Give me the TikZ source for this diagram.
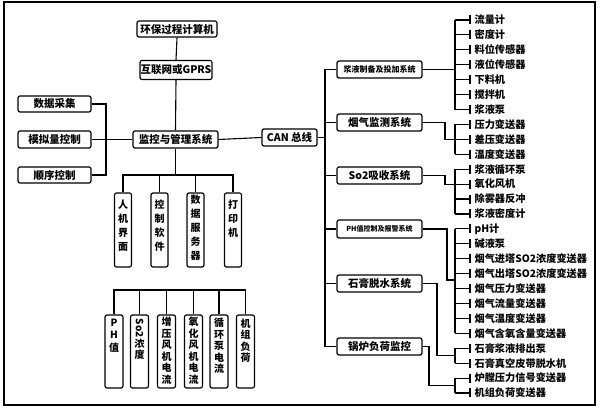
\documentclass[tikz,border=0pt]{standalone}
\usepackage{fontspec}
\usepackage{graphicx}
\setmainfont{Noto Sans CJK SC}
\begin{document}
\begin{tikzpicture}[x=1pt,y=-1pt,
  line width=1.1pt,
  bx/.style={draw,rounded corners=2pt,line width=1.2pt,inner sep=0pt,font=\bfseries\fontsize{10.5}{11}\selectfont},
  vb/.style={draw,rounded corners=2pt,line width=1.2pt,inner sep=0pt,minimum width=17,minimum height=74},
  wb/.style={draw,rounded corners=2pt,line width=1.2pt,inner sep=0pt,minimum width=18,minimum height=73},
  vt/.style={anchor=north,inner sep=0pt,align=center,font=\bfseries\fontsize{10}{14}\selectfont},
  wt/.style={anchor=north,inner sep=0pt,align=center,font=\bfseries\fontsize{10}{11.5}\selectfont},
  it/.style={anchor=west,inner sep=0pt,font=\bfseries\fontsize{10.2}{11}\selectfont}]
\useasboundingbox (0,0) rectangle (600,411);
\draw[line width=1.3pt] (4,2) rectangle (595,405);
% top column
\node[bx,minimum width=80,minimum height=16] (pc) at (177,29) {环保过程计算机};
\node[bx,minimum width=72,minimum height=19] (net) at (176,70) {互联网或GPRS};
\node[bx,minimum width=85,minimum height=17] (mon) at (175.5,139.5) {监控与管理系统};
\node[bx,minimum width=73,minimum height=16] (daq) at (54.5,104) {数据采集};
\node[bx,minimum width=73,minimum height=17] (ana) at (54.5,139.5) {模拟量控制};
\node[bx,minimum width=73,minimum height=16] (seq) at (54.5,175) {顺序控制};
\node[bx,minimum width=55,minimum height=17] (can) at (289.5,137.5) {CAN 总线};
\draw (pc.south) -- (net.north);
\draw (net.south) -- (mon.north);
\draw (ana.east) -- (mon.west);
\coordinate (lk1) at (106,104);
\coordinate (lk2) at (106,175);
\draw (daq.east) -- (lk1) -- (lk2) -- (seq.east);
\draw (mon.east) -- (can.west);
% vertical boxes
\node[vb] (v1) at (123,230) {};
\node[vb] (v2) at (159.5,230) {};
\node[vb] (v3) at (195.5,230) {};
\node[vb] (v4) at (233,230) {};
\node[vt] (v1t) at ([yshift=-7pt]v1.north) {人\\机\\界\\面};
\node[vt] (v2t) at ([yshift=-7pt]v2.north) {控\\制\\软\\件};
\node[vt] (v3t) at ([yshift=-2pt]v3.north) {数\\据\\服\\务\\器};
\node[vt] (v4t) at ([yshift=-7pt]v4.north) {打\\印\\机};
\coordinate (mb) at (175.5,175);
\draw (mon.south) -- (mb);
\draw (v1.north) |- (mb) -| (v4.north);
\draw (v2.north) -- (v2.north |- mb);
\draw (v3.north) -- (v3.north |- mb);
% bottom boxes
\node[wb] (b1) at (114,351.5) {};
\node[wb] (b2) at (139.5,351.5) {};
\node[wb] (b3) at (166.5,351.5) {};
\node[wb] (b4) at (193.5,351.5) {};
\node[wb] (b5) at (219,351.5) {};
\node[wb] (b6) at (245.5,351.5) {};
\node[wt,font=\bfseries\fontsize{10}{12.5}\selectfont] (b1t) at ([yshift=-4pt]b1.north) {P\\H\\值};
\node[wt] (b2t) at ([yshift=-4pt]b2.north) {\rotatebox{-90}{So2}\\浓\\度};
\node[wt] (b3t) at ([yshift=-2pt]b3.north) {增\\压\\风\\机\\电\\流};
\node[wt] (b4t) at ([yshift=-2pt]b4.north) {氧\\化\\风\\机\\电\\流};
\node[wt] (b5t) at ([yshift=-3pt]b5.north) {循\\环\\泵\\电\\流};
\node[wt] (b6t) at ([yshift=-4pt]b6.north) {机\\组\\负\\荷};
\coordinate (bb) at (166.5,290);
\draw (b1.north) |- (bb) -| (b6.north);
\foreach \n in {b2,b3,b4,b5} \draw (\n.north) -- (\n.north |- bb);
% subsystems
\node[bx,minimum width=85,minimum height=17,font=\bfseries\fontsize{8}{8.5}\selectfont] (s1) at (379.5,69.5) {浆液制备及投加系统};
\node[bx,minimum width=85,minimum height=17] (s2) at (379.5,122.5) {烟气监测系统};
\node[bx,minimum width=85,minimum height=17] (s3) at (379.5,175.5) {So2吸收系统};
\node[bx,minimum width=85,minimum height=18,font=\bfseries\fontsize{7}{7.5}\selectfont] (s4) at (379.5,229) {PH值控制及报警系统};
\node[bx,minimum width=85,minimum height=17] (s5) at (379.5,283.5) {石膏脱水系统};
\node[bx,minimum width=85,minimum height=17] (s6) at (379.5,346.5) {锅炉负荷监控};
\coordinate (tr) at (325,137.5);
\draw (can.east) -- (tr);
\draw (s1.west) -| (tr) |- (s6.west);
\foreach \n in {s2,s3,s4,s5} \draw (\n.west) -- (\n.west -| tr);
% items
\foreach \t [count=\i from 0] in {流量计,密度计,料位传感器,液位传感器,下料机,搅拌机,浆液泵,
  压力变送器,差压变送器,温度变送器,
  浆液循环泵,氧化风机,除雾器反冲,浆液密度计,
  pH计,碱液泵,烟气进塔SO2浓度变送器,烟气出塔SO2浓度变送器,烟气压力变送器,烟气流量变送器,烟气温度变送器,烟气含氧含量变送器,
  石膏浆液排出泵,石膏真空皮带脱水机,
  炉膛压力信号变送器,机组负荷变送器}{
  \node[it] (i\i) at (474,20+14.92*\i) {\t};
  \draw (455,20+14.92*\i) -- ([xshift=-4pt]i\i.west);
  \draw ([xshift=-4pt,yshift=-4.5pt]i\i.west) -- ([xshift=-4pt,yshift=4.5pt]i\i.west);
}
% brackets
\draw (455,0 |- i0.west) -- (455,0 |- i6.west);
\draw (s1.east) -- (455,0 |- s1.east);
\draw (455,0 |- i7.west) -- (455,0 |- i9.west);
\draw (s2.east) -- (445,0 |- s2.east) |- (455,0 |- i8.west);
\draw (455,0 |- i10.west) -- (455,0 |- i13.west);
\draw (s3.east) -- (445,0 |- s3.east) |- (455,0 |- i11.west);
\draw (455,0 |- i14.west) -- (455,0 |- i21.west);
\draw (s4.east) -- (447,0 |- s4.east) -- (447,280) -- (455,280);
\draw (455,0 |- i22.west) -- (455,0 |- i23.west);
\draw (s5.east) -- (437,0 |- s5.east) -- (437,355.7) -- (455,355.7);
\draw (455,0 |- i24.west) -- (455,0 |- i25.west);
\draw (s6.east) -- (429,0 |- s6.east) -- (429,385.5) -- (455,385.5);
\end{tikzpicture}
\end{document}
